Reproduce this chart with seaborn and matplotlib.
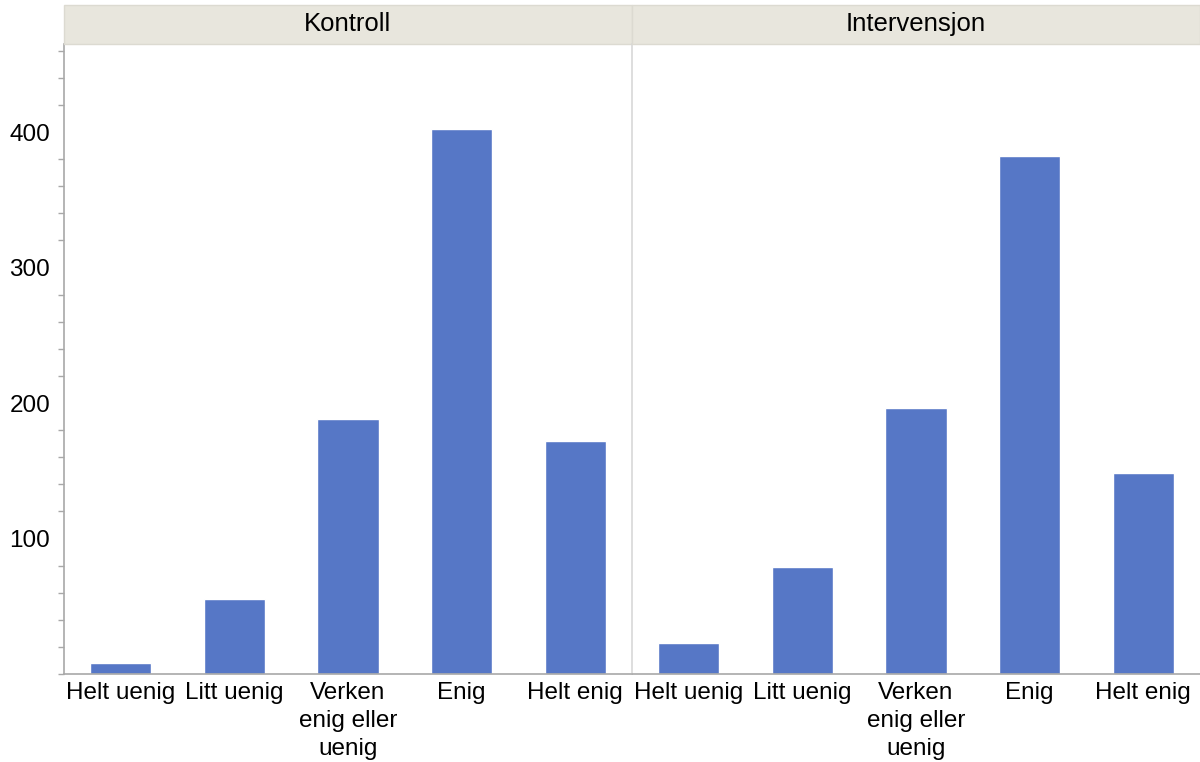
import numpy as np
import pandas as pd
import matplotlib.pyplot as plt
import seaborn as sns
from matplotlib.patches import Rectangle
from matplotlib.ticker import MultipleLocator

svar = ["Helt uenig", "Litt uenig", "Verken\nenig eller\nuenig", "Enig", "Helt enig"]
grupper = ["Kontroll", "Intervensjon"]
kontroll = [8, 55, 188, 402, 172]
intervensjon = [23, 79, 196, 382, 148]

df = pd.DataFrame({
    "svar": svar * 2,
    "antall": kontroll + intervensjon,
    "gruppe": [grupper[0]] * 5 + [grupper[1]] * 5,
})

sns.set_style("white")
plt.rcParams["font.family"] = ["Liberation Sans", "DejaVu Sans"]
plt.rcParams["text.color"] = "black"
plt.rcParams["xtick.labelcolor"] = "black"
plt.rcParams["ytick.labelcolor"] = "black"

fig, axs = plt.subplots(1, 2, figsize=(12, 7.62), dpi=100, sharey=True)
fig.subplots_adjust(left=0.0533, right=1.0, bottom=0.1155, top=0.9423, wspace=0)

bar_color = "#5677C6"
for ax, g in zip(axs, grupper):
    sns.barplot(data=df[df.gruppe == g], x="svar", y="antall", order=svar,
                color=bar_color, width=0.54, saturation=1, ax=ax)
    ax.set_xlim(-0.5, 4.5)
    ax.set_ylim(0, 465)
    ax.set_xlabel("")
    ax.set_ylabel("")
    ax.tick_params(axis="x", length=0, pad=6, labelsize=17.5)
    for lbl in ax.get_xticklabels():
        lbl.set_linespacing(1.35)
    for s in ["top", "right"]:
        ax.spines[s].set_visible(False)
    ax.spines["bottom"].set_color("#a8a8a8")
    ax.spines["bottom"].set_linewidth(1.2)
    # strip header
    strip_h = 39 / 630
    ax.add_patch(Rectangle((0, 1), 1, strip_h, transform=ax.transAxes,
                           facecolor="#E8E6DD", edgecolor="#DCDAD1", lw=1,
                           clip_on=False, zorder=5))
    ax.text(0.5, 1 + strip_h / 2, g, transform=ax.transAxes, ha="center",
            va="center", fontsize=18.5, zorder=6)

ax1, ax2 = axs
ax1.yaxis.set_major_locator(MultipleLocator(100))
ax1.yaxis.set_minor_locator(MultipleLocator(20))
ax1.set_yticks([100, 200, 300, 400])
ax1.tick_params(axis="y", which="major", length=6, width=1, color="#a8a8a8",
                labelsize=17.5, pad=4)
ax1.tick_params(axis="y", which="minor", length=4, width=1, color="#a8a8a8", left=True)
ax1.spines["left"].set_color("#a8a8a8")
ax1.spines["left"].set_linewidth(1.2)

ax2.spines["left"].set_color("#d8d8d8")
ax2.spines["left"].set_linewidth(1.2)
ax2.tick_params(axis="y", which="both", left=False, labelleft=False)

fig.savefig("out.png", dpi=100)
